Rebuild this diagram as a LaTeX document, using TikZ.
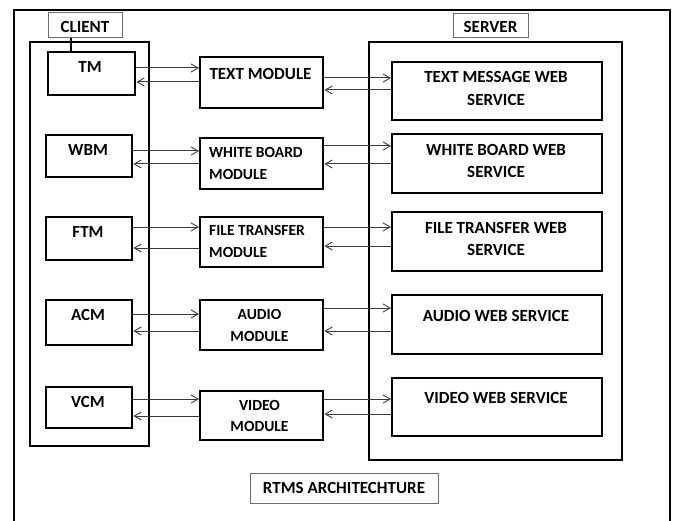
\documentclass[tikz,border=0pt]{standalone}
\usepackage{fontspec}
\setmainfont{Carlito}
\usetikzlibrary{arrows.meta}
\definecolor{linegray}{HTML}{3A3A3A}
\definecolor{tagedge}{HTML}{6E6E6E}
\tikzset{
  box/.style={draw=black, line width=2.4pt, fill=white, anchor=north west, inner sep=0pt},
  frame/.style={draw=black, line width=2.2pt, anchor=north west, inner sep=0pt},
  tag/.style={draw=tagedge, line width=0.9pt, fill=white, anchor=north west, inner sep=0pt},
  txt/.style={font=\fontsize{17}{22}\selectfont\bfseries, inner sep=0pt, anchor=base},
  small/.style={font=\fontsize{15.5}{22}\selectfont\bfseries},
  txtl/.style={txt, small, anchor=base west},
  link/.style={draw=linegray, line width=1pt, -{Straight Barb[length=7pt,width=8pt,line width=0.9pt]}}
}
\begin{document}
\begin{tikzpicture}[x=1pt, y=-1pt]
\clip (0,0) rectangle (676,521);
\fill[white] (0,0) rectangle (676,521);
% outer page frame
\draw[black, line width=2pt] (14,540) -- (14,10) -- (670,10) -- (670,540);

% containers and their tags
\node[frame, minimum width=119pt, minimum height=404pt] (client) at (29,41) {};
\node[frame, minimum width=253pt, minimum height=418pt] (server) at (368,41) {};
\node[tag, minimum width=74pt, minimum height=25pt] (clienttag) at (48,12) {};
\node[tag, minimum width=75pt, minimum height=24pt] (servertag) at (453,13) {};
\node[txt] (clienttxt) at (85,32.5) {CLIENT};
\node[txt] (servertxt) at (490.5,33) {SERVER};

% client modules
\node[box, minimum width=87pt, minimum height=43pt] (tm)  at (47,51) {};
\node[box, minimum width=86pt, minimum height=42pt] (wbm) at (45,134) {};
\node[box, minimum width=86pt, minimum height=43pt] (ftm) at (45,216) {};
\node[box, minimum width=86pt, minimum height=45pt] (acm) at (45,299) {};
\node[box, minimum width=86pt, minimum height=41pt] (vcm) at (45,386) {};
\node[txt] (tmtxt)  at (90,73) {TM};
\node[txt] (wbmtxt) at (88,155.5) {WBM};
\node[txt] (ftmtxt) at (88,237.5) {FTM};
\node[txt] (acmtxt) at (88,320.5) {ACM};
\node[txt] (vcmtxt) at (88,407) {VCM};
\draw[black, line width=1.5pt] (clienttag.south -| 71,0) -- (tm.north -| 71,0);

% middle modules
\node[box, minimum width=123pt, minimum height=51pt] (textm)  at (199,56) {};
\node[box, minimum width=123pt, minimum height=51pt] (wbmod)  at (199,137) {};
\node[box, minimum width=123pt, minimum height=50pt] (ftmod)  at (199,216) {};
\node[box, minimum width=123pt, minimum height=50pt] (audmod) at (199,299) {};
\node[box, minimum width=123pt, minimum height=49pt] (vidmod) at (199,390) {};
\node[txt]  (textmtxt) at (260.5,79.5) {TEXT MODULE};
\node[txtl] (wbmodtxta) at (209,157.5) {WHITE BOARD};
\node[txtl] (wbmodtxtb) at (209,180) {MODULE};
\node[txtl] (ftmodtxta) at (209,235.5) {FILE TRANSFER};
\node[txtl] (ftmodtxtb) at (209,257.5) {MODULE};
\node[txt, small] (audtxta) at (259.5,319) {AUDIO};
\node[txt, small] (audtxtb) at (259.5,341) {MODULE};
\node[txt, small] (vidtxta) at (259.5,410) {VIDEO};
\node[txt, small] (vidtxtb) at (259.5,431) {MODULE};

% web services
\node[box, minimum width=210pt, minimum height=58pt] (tws)  at (391,61) {};
\node[box, minimum width=210pt, minimum height=59pt] (wbws) at (391,133) {};
\node[box, minimum width=210pt, minimum height=59pt] (ftws) at (391,211) {};
\node[box, minimum width=210pt, minimum height=59pt] (aws)  at (391,294) {};
\node[box, minimum width=210pt, minimum height=58pt] (vws)  at (391,377) {};
\node[txt] (twstxta)  at (496,83) {TEXT MESSAGE WEB};
\node[txt] (twstxtb)  at (496,105.5) {SERVICE};
\node[txt] (wbwstxta) at (496,155.5) {WHITE BOARD WEB};
\node[txt] (wbwstxtb) at (496,178) {SERVICE};
\node[txt] (ftwstxta) at (496,233) {FILE TRANSFER WEB};
\node[txt] (ftwstxtb) at (496,255.5) {SERVICE};
\node[txt] (awstxt)   at (496,321.5) {AUDIO WEB SERVICE};
\node[txt] (vwstxt)   at (496,403.5) {VIDEO WEB SERVICE};

% caption
\node[tag, minimum width=188pt, minimum height=30pt] (rtms) at (250,473) {};
\node[txt] (rtmstxt) at (344,493.5) {RTMS ARCHITECHTURE};

% client <-> module links
\draw[link] (tm.east  |- 0,68)  -- (textm.west |- 0,68);
\draw[link] (textm.west |- 0,82) -- (tm.east |- 0,82);
\draw[link] (wbm.east |- 0,151) -- (wbmod.west |- 0,151);
\draw[link] (wbmod.west |- 0,164) -- (wbm.east |- 0,164);
\draw[link] (ftm.east |- 0,227) -- (ftmod.west |- 0,227);
\draw[link] (ftmod.west |- 0,248) -- (ftm.east |- 0,248);
\draw[link] (acm.east |- 0,314) -- (audmod.west |- 0,314);
\draw[link] (audmod.west |- 0,331) -- (acm.east |- 0,331);
\draw[link] (vcm.east |- 0,399) -- (vidmod.west |- 0,399);
\draw[link] (vidmod.west |- 0,416) -- (vcm.east |- 0,416);

% module <-> service links
\draw[link] (textm.east |- 0,78) -- (tws.west |- 0,78);
\draw[link] (tws.west |- 0,90) -- (textm.east |- 0,90);
\draw[link] (wbmod.east |- 0,146) -- (wbws.west |- 0,146);
\draw[link] (wbws.west |- 0,164) -- (wbmod.east |- 0,164);
\draw[link] (ftmod.east |- 0,227) -- (ftws.west |- 0,227);
\draw[link] (ftws.west |- 0,246) -- (ftmod.east |- 0,246);
\draw[link] (audmod.east |- 0,308) -- (aws.west |- 0,308);
\draw[link] (aws.west |- 0,331) -- (audmod.east |- 0,331);
\draw[link] (vidmod.east |- 0,399) -- (vws.west |- 0,399);
\draw[link] (vws.west |- 0,414) -- (vidmod.east |- 0,414);
\end{tikzpicture}
\end{document}
